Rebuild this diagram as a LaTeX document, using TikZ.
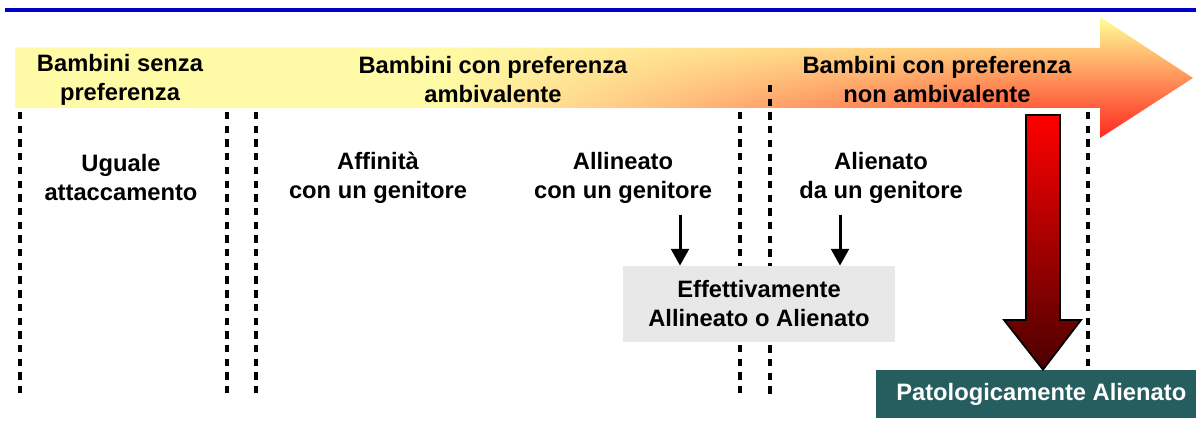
\documentclass[tikz,border=0pt]{standalone}
\usepackage{fontspec}
\setmainfont{Liberation Sans}
\usepackage{xcolor}
\usetikzlibrary{arrows.meta, calc, positioning, fadings}
\definecolor{topblue}{RGB}{0,0,200}
\definecolor{paleyellow}{RGB}{255,250,165}
\definecolor{headyellow}{RGB}{255,255,150}
\definecolor{bandred}{RGB}{255,40,30}
\definecolor{boxgray}{RGB}{232,232,232}
\definecolor{darkteal}{RGB}{38,94,96}
\definecolor{deepred}{RGB}{75,0,0}
\tikzset{
  % label text style
  lbl/.style={
    font=\bfseries\fontsize{13.5}{16.5}\selectfont
    , align=center
    , anchor=center
    , inner sep=0pt
  },
}
\tikzset{
  % separator line style (dashed)
  sep/.style={
    line width = 1.8pt
    , dash pattern=on 4.2pt off 3.6pt
  },
}
\tikzset{
  % small arrow style
  sarr/.style={
    line width = 1.7pt
    , -{Triangle[width=10pt,length=9.5pt]}
  },
}
\tikzset{
  %result box style
  result/.style={
    lbl
    , fill=boxgray
    , minimum width={5.44cm}
    , minimum height={1.52cm}
  },
}
\tikzset{
  %final box style
  final/.style={
    lbl
    , fill=darkteal
    , text=white
    , minimum width={6.4cm}
    , minimum height={0.96cm}
  },
}

\begin{document}
\begin{tikzpicture}[x=0.02cm, y=-0.02cm]
  \useasboundingbox (0,0) rectangle (1196,425);
  % title rule
  \draw[topblue, line width=2.3pt] (5,10) -- (1196,10);
  % big band arrow
  \shade[top color=headyellow, bottom color=bandred]
    (15,48) -- (1100,48) -- (1100,17) -- (1193,78) -- (1100,138)
    -- (1100,108) -- (15,108) -- cycle;
  \begin{scope}
    \clip (15,48) -- (1100,48) -- (1100,17) -- (1193,78) -- (1100,138)
      -- (1100,108) -- (15,108) -- cycle;
    \fill[paleyellow] (10,10) rectangle (450,145);
    \fill[paleyellow, path fading=east] (449,10) rectangle (1020,145);
  \end{scope}
  % separators
  \foreach \sx in {20,227,256,740,1088} {
    \coordinate (s\sx) at (\sx,112);
  }
  \draw[sep] (s20) -- ++(0,287);
  \draw[sep] (s227) -- ++(0,287);
  \draw[sep] (s256) -- ++(0,287);
  \draw[sep] (s740) -- ++(0,287);
  \draw[sep] (770,85) -- (770,399);
  \draw[sep] (s1088) -- (1088,370);
  % band labels
  \node[lbl] (senza) at (120,80) {Bambini senza\\preferenza};
  \node[lbl] (ambiv) at (493,80) {Bambini con preferenza\\ambivalente};
  \node[lbl] (nonambiv) at (937,80) {Bambini con preferenza\\non ambivalente};
  % category labels
  \node[lbl] (uguale) at (121,178) {Uguale\\attaccamento};
  \node[lbl] (affinita) at (378,178) {Affinità\\con un genitore};
  \node[lbl] (allineato) at (623,178) {Allineato\\con un genitore};
  \node[lbl] (alienato) at (881,178) {Alienato\\da un genitore};
  % boxes
  \node[result] (effettivo) at (759,304) {Effettivamente\\Allineato o Alienato};
  \node[final] (patologico) at (1036,394) {\hspace{6pt}Patologicamente Alienato};
  % arrows to the result box
  \coordinate (aA) at (680,215);
  \coordinate (aB) at (840,215);
  \draw[sarr] (aA) -- (aA |- effettivo.north);
  \draw[sarr] (aB) -- (aB |- effettivo.north);
  % red block arrow
  \coordinate (tip) at (patologico.north -| 1043,0);
  \shade[top color=red, bottom color=deepred, draw=black, line width=1pt]
    (1026,115) -- (1060,115) -- (1060,320) -- (1081,320) -- (tip)
    -- (1004,320) -- (1026,320) -- cycle;
\end{tikzpicture}
\end{document}
